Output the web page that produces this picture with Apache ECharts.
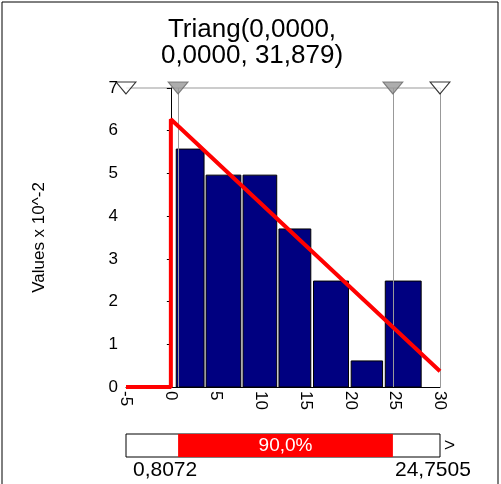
<!DOCTYPE html>
<html>
<head>
<meta charset="utf-8" />
<script src="https://cdn.jsdelivr.net/npm/echarts@6/dist/echarts.min.js"></script>
<style>body{margin:0;background:#fff}</style>
</head>
<body>
<div id="main" style="width:501px;height:484px;"></div>
<script>
    // histogram bins (x from, x to, height x10^-2)
    var binStarts = [0.6, 3.93, 8.05, 12.05, 15.9, 20.1, 23.9];
    var binEnds   = [3.7, 7.8, 11.8, 15.6, 19.8, 23.6, 27.9];
    var binValues = [5.57, 4.96, 4.96, 3.7, 2.48, 0.61, 2.48];
    // fitted triangular density
    var fitLine = [[-5, 0], [0, 0], [0, 6.27], [30, 0.37]];
    var leftVal = 0.8072, rightVal = 24.7505;
    var pctText = '90,0%';

    var myChart = echarts.init(document.getElementById('main'));
    var bars = binStarts.map(function (s, i) { return [s, binEnds[i], binValues[i]]; });

    var option = {
        animation: false,
        title: {
            text: 'Triang(0,0000,\n0,0000, 31,879)',
            left: 247, textAlign: 'center', top: 12,
            textStyle: {fontFamily: 'Liberation Sans', fontSize: 26, fontWeight: 'normal', color: '#000', lineHeight: 26}
        },
        grid: {left: 126, right: 61, top: 88, bottom: 97},
        xAxis: {
            type: 'value', min: -5, max: 30, interval: 5,
            axisLine: {lineStyle: {color: '#000'}},
            axisTick: {show: false},
            splitLine: {show: false},
            axisLabel: {rotate: -90, color: '#000', fontSize: 17, fontFamily: 'Liberation Sans', margin: 4}
        },
        yAxis: {
            type: 'value', min: 0, max: 7, interval: 1,
            name: 'Values x 10^-2', nameLocation: 'middle', nameGap: 78, nameRotate: 90,
            nameTextStyle: {color: '#000', fontSize: 17, fontFamily: 'Liberation Sans'},
            axisLine: {show: true, lineStyle: {color: '#000'}},
            axisTick: {show: true, length: 4, lineStyle: {color: '#000'}},
            splitLine: {show: false},
            axisLabel: {color: '#000', fontSize: 17, fontFamily: 'Liberation Sans'}
        },
        series: [{
            type: 'custom',
            data: bars,
            renderItem: function (params, api) {
                var p0 = api.coord([api.value(0), api.value(2)]);
                var p1 = api.coord([api.value(1), 0]);
                return {type: 'rect', shape: {x: p0[0], y: p0[1], width: p1[0] - p0[0], height: p1[1] - p0[1]},
                    style: {fill: '#000080', stroke: '#000', lineWidth: 1}};
            },
            encode: {x: [0, 1], y: 2}
        }, {
            type: 'line', data: fitLine, showSymbol: false,
            lineStyle: {color: '#ff0000', width: 4}, z: 5,
            markLine: {
                silent: true, symbol: 'none', label: {show: false},
                lineStyle: {color: '#999', type: 'solid', width: 1},
                data: [{xAxis: leftVal}, {xAxis: rightVal}, {xAxis: 30}]
            }
        }, {
            type: 'scatter', clip: false, symbol: 'triangle', symbolRotate: 180, symbolSize: [20, 12],
            data: [[-5, 7], [30, 7]],
            itemStyle: {color: '#fff', borderColor: '#000', borderWidth: 1}, z: 10
        }, {
            type: 'scatter', clip: false, symbol: 'triangle', symbolRotate: 180, symbolSize: [20, 12],
            data: [[leftVal, 7], [rightVal, 7]],
            itemStyle: {color: '#999', borderColor: '#666', borderWidth: 1}, z: 10
        }]
    };
    myChart.setOption(option);

    var xa = myChart.convertToPixel({gridIndex: 0}, [-5, 0])[0];
    var xb = myChart.convertToPixel({gridIndex: 0}, [30, 0])[0];
    var xl = myChart.convertToPixel({gridIndex: 0}, [leftVal, 0])[0];
    var xr = myChart.convertToPixel({gridIndex: 0}, [rightVal, 0])[0];
    myChart.setOption({graphic: [
        {type: 'rect', shape: {x: 2, y: 2, width: 496, height: 500}, style: {fill: null, stroke: '#000', lineWidth: 1}},
        {type: 'line', shape: {x1: xa, y1: 88, x2: xb, y2: 88}, style: {stroke: '#999', lineWidth: 1}},
        {type: 'rect', shape: {x: xa, y: 434, width: xb - xa, height: 23}, style: {fill: '#fff', stroke: '#000', lineWidth: 1}},
        {type: 'rect', shape: {x: xl, y: 434, width: xr - xl, height: 23}, style: {fill: '#ff0000'}},
        {type: 'text', x: (xl + xr) / 2, y: 446, style: {text: pctText, fill: '#fff', fontSize: 19, fontFamily: 'Liberation Sans', align: 'center', verticalAlign: 'middle'}},
        {type: 'text', x: xb + 4, y: 446, style: {text: '>', fill: '#000', fontSize: 19, fontFamily: 'Liberation Sans', verticalAlign: 'middle'}},
        {type: 'text', x: xl - 13, y: 470, style: {text: leftVal.toFixed(4).replace('.', ','), fill: '#000', fontSize: 21, fontFamily: 'Liberation Sans', align: 'center', verticalAlign: 'middle'}},
        {type: 'text', x: xr + 40, y: 470, style: {text: rightVal.toFixed(4).replace('.', ','), fill: '#000', fontSize: 21, fontFamily: 'Liberation Sans', align: 'center', verticalAlign: 'middle'}}
    ]});
</script>
</body>
</html>
